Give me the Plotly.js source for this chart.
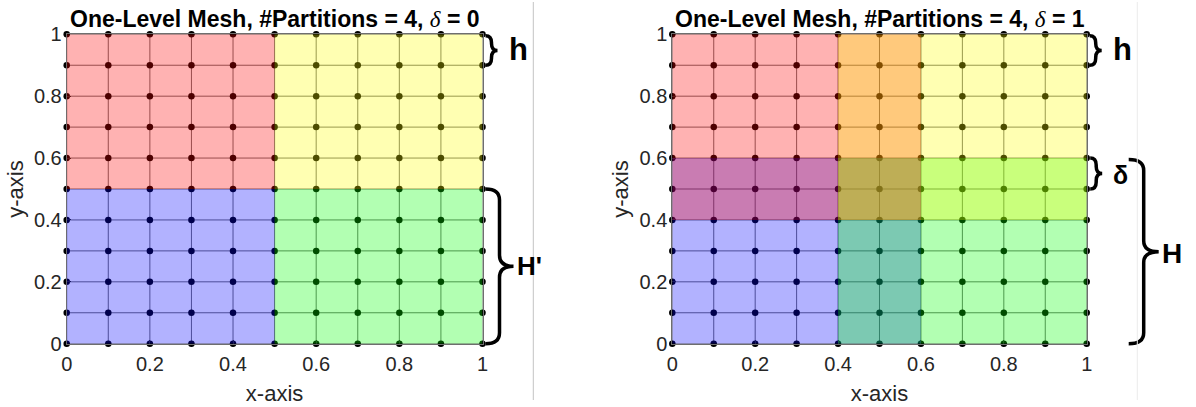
<!DOCTYPE html>
<html>
<head>
<meta charset="utf-8">
<script src="https://cdn.plot.ly/plotly-3.0.0.min.js"></script>
<style>html,body{margin:0;padding:0;background:#fff;}#chart{width:1196px;height:407px;}</style>
</head>
<body>
<div id="chart"></div>
<script>
// ---- data ----
const nodeCoords = [0, 0.1, 0.2, 0.3, 0.4, 0.5, 0.6, 0.7, 0.8, 0.9, 1];
const tickVals = [0, 0.2, 0.4, 0.6, 0.8, 1];
const tickText = ['0', '0.2', '0.4', '0.6', '0.8', '1'];
const partitionNames = ['bottom-left', 'bottom-right', 'top-left', 'top-right'];
const partitionColors = ['rgba(0,0,255,0.3)', 'rgba(0,255,0,0.3)', 'rgba(255,0,0,0.3)', 'rgba(255,255,0,0.3)'];
const deltaValues = [0, 1];
// delta = 0 partitions
const leftX0 = [0, 0.5, 0, 0.5];
const leftX1 = [0.5, 1, 0.5, 1];
const leftY0 = [0, 0, 0.5, 0.5];
const leftY1 = [0.5, 0.5, 1, 1];
// delta = 1 partitions (overlapping)
const rightX0 = [0, 0.4, 0, 0.4];
const rightX1 = [0.6, 1, 0.6, 1];
const rightY0 = [0, 0, 0.4, 0.4];
const rightY1 = [0.6, 0.6, 1, 1];

// ---- geometry (pixels) ----
const FIG_W = 1196, FIG_H = 407;
const plotTop = 34.3, plotBottom = 343.7;
const leftL = 66.7, leftR = 482.5, rightL = 672.3, rightR = 1086.7;
const plotH = plotBottom - plotTop;
const FONT = 'Liberation Sans, Arial, Helvetica, sans-serif';

function gridTrace(xa, ya) {
  const xs = [], ys = [];
  nodeCoords.forEach(v => { xs.push(v, v, null); ys.push(0, 1, null); });
  nodeCoords.forEach(v => { xs.push(0, 1, null); ys.push(v, v, null); });
  return {x: xs, y: ys, xaxis: xa, yaxis: ya, mode: 'lines', type: 'scatter',
    line: {color: 'rgb(110,110,110)', width: 1}, hoverinfo: 'skip', showlegend: false};
}
function nodeTrace(xa, ya) {
  const xs = [], ys = [];
  nodeCoords.forEach(a => nodeCoords.forEach(b => { xs.push(a); ys.push(b); }));
  return {x: xs, y: ys, xaxis: xa, yaxis: ya, mode: 'markers', type: 'scatter', cliponaxis: false,
    marker: {color: '#000', size: 6.5}, hoverinfo: 'skip', showlegend: false};
}

const shapes = [];
function addPartitions(x0, x1, y0, y1, xr, yr) {
  for (let i = 0; i < x0.length; i++) {
    shapes.push({type: 'rect', xref: xr, yref: yr, x0: x0[i], x1: x1[i], y0: y0[i], y1: y1[i],
      fillcolor: partitionColors[i], line: {width: 0}, layer: 'above', name: partitionNames[i]});
  }
}
addPartitions(leftX0, leftX1, leftY0, leftY1, 'x', 'y');
addPartitions(rightX0, rightX1, rightY0, rightY1, 'x2', 'y2');

function brace(xr, yr, Wpx, x0px, yT, yB, wPx, rPx) {
  const x0 = 1 + x0px / Wpx, w = wPx / Wpx, r = rPx / plotH;
  const s = x0 + w / 2, tip = x0 + w, ym = (yT + yB) / 2;
  const path = `M ${x0},${yT} Q ${s},${yT} ${s},${yT - r} L ${s},${ym + r} Q ${s},${ym} ${tip},${ym} ` +
               `Q ${s},${ym} ${s},${ym - r} L ${s},${yB + r} Q ${s},${yB} ${x0},${yB}`;
  shapes.push({type: 'path', xref: xr + ' domain', yref: yr + ' domain', path: path,
    line: {color: '#000', width: 3.5}, fillcolor: 'rgba(0,0,0,0)', layer: 'above'});
}
const WL = leftR - leftL, WR = rightR - rightL;
brace('x', 'y', WL, 3, 0.995, 0.9, 12, 7);
brace('x', 'y', WL, 3, 0.5, 0.0, 28, 11);
brace('x2', 'y2', WR, 3, 0.995, 0.9, 12, 7);
brace('x2', 'y2', WR, 3.5, 0.6, 0.5, 12, 7);
brace('x2', 'y2', WR, 42, 0.595, 0.0, 30, 11);

// separators between the two figure panels
shapes.push({type: 'line', xref: 'paper', yref: 'paper', x0: 533.3 / FIG_W, x1: 533.3 / FIG_W,
  y0: 7 / FIG_H, y1: 1 - 2 / FIG_H, line: {color: '#c4c4c4', width: 1}});
shapes.push({type: 'line', xref: 'paper', yref: 'paper', x0: 1137.3 / FIG_W, x1: 1137.3 / FIG_W,
  y0: 7 / FIG_H, y1: 1 - 2 / FIG_H, line: {color: '#ececec', width: 1}});

const annotations = [];
function titleAnn(xr, delta) {
  annotations.push({xref: xr + ' domain', yref: 'paper', x: 0.5, y: 1 - 19 / FIG_H, yanchor: 'middle',
    xanchor: 'center', showarrow: false,
    text: '<b>One-Level Mesh, #Partitions = 4, </b><span style="font-family:\'Liberation Serif\'"><i>δ</i></span><b> = ' + delta + '</b>',
    font: {family: FONT, size: 23, color: '#000'}});
}
titleAnn('x', deltaValues[0]);
titleAnn('x2', deltaValues[1]);
function label(xr, yr, Wpx, xpx, yd, txt, size) {
  annotations.push({xref: xr + ' domain', yref: yr + ' domain', x: 1 + xpx / Wpx, y: yd,
    xanchor: 'center', yanchor: 'middle', showarrow: false, text: '<b>' + txt + '</b>',
    font: {family: FONT, size: size, color: '#000'}});
}
label('x', 'y', WL, 36, 0.95, 'h', 31);
label('x', 'y', WL, 47, 0.25, "H'", 26);
label('x2', 'y2', WR, 36, 0.95, 'h', 31);
label('x2', 'y2', WR, 34, 0.545, 'δ', 25);
label('x2', 'y2', WR, 85, 0.29, 'H', 28);

const tickFont = {family: FONT, size: 20, color: '#262626'};
function xAxis(dom, anchor) {
  return {domain: dom, anchor: anchor, range: [0, 1], tickvals: tickVals, ticktext: tickText,
    ticks: 'inside', ticklen: 4, tickcolor: '#262626', showgrid: false, zeroline: false,
    showline: true, mirror: true, linecolor: 'rgb(110,110,110)', tickfont: tickFont, ticklabelstandoff: 2,
    title: {text: 'x-axis', font: {family: FONT, size: 22, color: '#262626'}, standoff: 11}};
}
function yAxis(dom, anchor) {
  return {domain: dom, anchor: anchor, range: [0, 1], tickvals: tickVals, ticktext: tickText,
    ticks: 'inside', ticklen: 4, tickcolor: '#262626', showgrid: false, zeroline: false,
    showline: true, mirror: true, linecolor: 'rgb(110,110,110)', tickfont: tickFont,
    title: {text: 'y-axis', font: {family: FONT, size: 22, color: '#262626'}, standoff: 4}};
}
const yDom = [1 - plotBottom / FIG_H, 1 - plotTop / FIG_H];
const layout = {
  width: FIG_W, height: FIG_H, margin: {l: 0, r: 0, t: 0, b: 0},
  paper_bgcolor: '#fff', plot_bgcolor: '#fff', showlegend: false,
  xaxis: xAxis([leftL / FIG_W, leftR / FIG_W], 'y'),
  yaxis: yAxis(yDom, 'x'),
  xaxis2: xAxis([rightL / FIG_W, rightR / FIG_W], 'y2'),
  yaxis2: yAxis(yDom, 'x2'),
  shapes: shapes, annotations: annotations
};
const data = [gridTrace('x', 'y'), nodeTrace('x', 'y'), gridTrace('x2', 'y2'), nodeTrace('x2', 'y2')];
Plotly.newPlot('chart', data, layout, {displayModeBar: false, staticPlot: true});
</script>
</body>
</html>
